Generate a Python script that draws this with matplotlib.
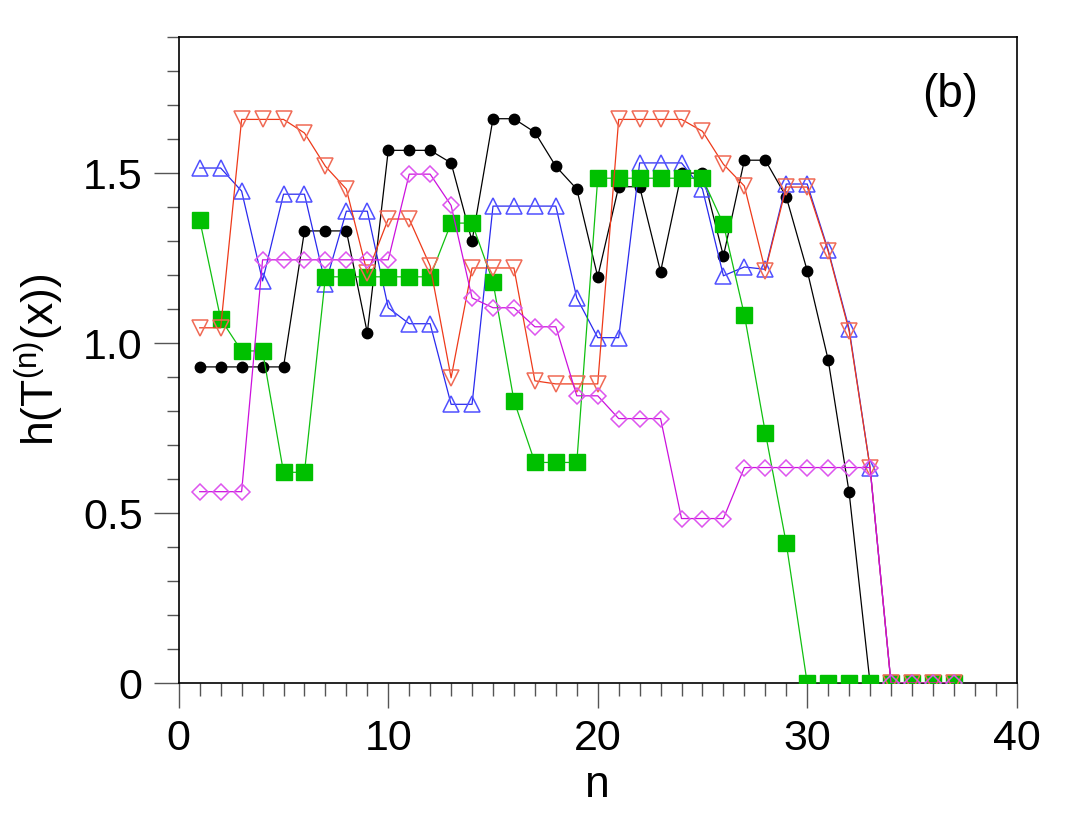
import matplotlib
matplotlib.use('Agg')
import matplotlib.pyplot as plt
from matplotlib.ticker import MultipleLocator, FixedLocator

plt.rcParams['font.family'] = ['Liberation Sans', 'DejaVu Sans']

n = list(range(1, 38))

# h values per series, n = 1..37
black = [0.93, 0.93, 0.93, 0.93, 0.93, 1.33, 1.33, 1.33, 1.03, 1.567,
         1.567, 1.567, 1.53, 1.30, 1.66, 1.66, 1.62, 1.52, 1.453, 1.195,
         1.46, 1.46, 1.21, 1.50, 1.50, 1.256, 1.538, 1.538, 1.43, 1.213,
         0.951, 0.561, 0.0, 0.0, 0.0, 0.0, 0.0]
blue = [1.515, 1.515, 1.447, 1.183, 1.438, 1.438, 1.174, 1.388, 1.388, 1.104,
        1.057, 1.057, 0.82, 0.82, 1.403, 1.403, 1.403, 1.403, 1.133, 1.016,
        1.016, 1.53, 1.53, 1.53, 1.453, 1.198, 1.224, 1.217, 1.468, 1.468,
        1.274, 1.042, 0.634, 0.0, 0.0, 0.0, 0.0]
green = [1.362, 1.071, 0.977, 0.977, 0.62, 0.62, 1.195, 1.195, 1.195, 1.195,
         1.195, 1.195, 1.353, 1.353, 1.18, 0.831, 0.649, 0.649, 0.649, 1.485,
         1.485, 1.485, 1.485, 1.485, 1.485, 1.35, 1.083, 0.737, 0.411, 0.0,
         0.0, 0.0, 0.0, 0.0, 0.0, 0.0, 0.0]
red = [1.045, 1.045, 1.658, 1.658, 1.658, 1.618, 1.52, 1.453, 1.206, 1.365,
       1.365, 1.227, 0.898, 1.221, 1.221, 1.221, 0.889, 0.88, 0.88, 0.88,
       1.658, 1.658, 1.658, 1.658, 1.623, 1.526, 1.462, 1.213, 1.459, 1.459,
       1.27, 1.036, 0.634, 0.0, 0.0, 0.0, 0.0]
magenta = [0.563, 0.563, 0.563, 1.245, 1.245, 1.245, 1.245, 1.245, 1.245, 1.245,
           1.497, 1.497, 1.405, 1.133, 1.104, 1.104, 1.048, 1.048, 0.845, 0.845,
           0.778, 0.778, 0.778, 0.484, 0.484, 0.484, 0.634, 0.634, 0.634, 0.634,
           0.634, 0.634, 0.634, 0.0, 0.0, 0.0, 0.0]

fig = plt.figure(figsize=(10.77, 8.25), dpi=100)
ax = fig.add_axes([0.166, 0.172, 0.778, 0.783])

lw = 0.9
ax.plot(n, black, color='black', lw=lw, marker='o', ms=7.5,
        mfc='black', mec='black', zorder=2)
ax.plot(n, blue, color='#2a2aee', lw=lw, marker='^', ms=12,
        mfc='none', mec='#5050ff', mew=1.1, zorder=3)
ax.plot(n, green, color='#10c010', lw=lw, marker='s', ms=11,
        mfc='#00c000', mec='#00c000', zorder=4)
ax.plot(n, red, color='#ee3a1a', lw=lw, marker='v', ms=12,
        mfc='none', mec='#f06a55', mew=1.1, zorder=5)
ax.plot(n, magenta, color='#cc11dd', lw=lw, marker='D', ms=8,
        mfc='none', mec='#dd55ee', mew=1.1, zorder=6)

ax.set_xlim(0, 40)
ax.set_ylim(0, 1.9)

ax.xaxis.set_major_locator(FixedLocator([0, 10, 20, 30, 40]))
ax.xaxis.set_minor_locator(MultipleLocator(1))
ax.yaxis.set_major_locator(FixedLocator([0, 0.5, 1.0, 1.5]))
ax.yaxis.set_minor_locator(MultipleLocator(0.1))
ax.set_yticklabels(['0', '0.5', '1.0', '1.5'])

ax.tick_params(which='both', direction='out', top=False, right=False,
               color='#555555', width=1.0, labelsize=31, pad=8)
ax.tick_params(which='major', length=18)
ax.tick_params(which='minor', length=9)

for sp in ax.spines.values():
    sp.set_linewidth(1.2)

ax.set_xlabel('n', fontsize=32, labelpad=4)
ax.set_ylabel(r'h(T$^{\mathregular{(n)}}$(x))', fontsize=32, labelpad=12)

ax.text(36.8, 1.73, '(b)', fontsize=33, ha='center', va='center')

fig.savefig('out.png', dpi=100)
